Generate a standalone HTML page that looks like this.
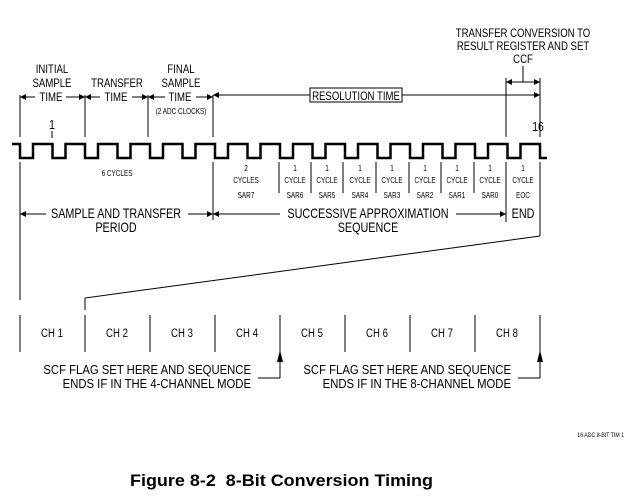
<!DOCTYPE html>
<html><head><meta charset="utf-8"><style>
html,body{margin:0;padding:0;background:#fff}
svg{display:block}
text{font-family:"Liberation Sans",sans-serif;fill:#000}
.n text{transform-box:fill-box;transform-origin:center;transform:scaleX(0.8)}
.r text{transform-box:fill-box;transform-origin:right;transform:scaleX(0.87)}
</style></head><body>
<svg width="631" height="502" viewBox="0 0 631 502" xmlns="http://www.w3.org/2000/svg">
<defs>
<marker id="a" viewBox="0 0 10 10" refX="10" refY="5" markerWidth="10" markerHeight="6" markerUnits="userSpaceOnUse" orient="auto"><path d="M0,0L10,5L0,10z"/></marker>
</defs>
<g stroke="#000" stroke-width="1" fill="none">
<line x1="20" y1="95" x2="20" y2="137"/>
<line x1="85" y1="95" x2="85" y2="137"/>
<line x1="148" y1="95" x2="148" y2="137"/>
<line x1="213" y1="95" x2="213" y2="137"/>
<line x1="213" y1="162" x2="213" y2="220"/>
<line x1="20" y1="162" x2="20" y2="300"/>
<line x1="52" y1="131" x2="52" y2="138"/>
<line x1="506" y1="78" x2="506" y2="137"/>
<line x1="540" y1="78" x2="540" y2="137"/>
<line x1="506" y1="162" x2="506" y2="222"/>
<line x1="540" y1="162" x2="540" y2="236"/>
<line x1="523" y1="66" x2="523" y2="82"/>
<line x1="279" y1="162" x2="279" y2="193"/><line x1="311" y1="162" x2="311" y2="193"/>
<line x1="343" y1="162" x2="343" y2="193"/><line x1="376" y1="162" x2="376" y2="193"/>
<line x1="409" y1="162" x2="409" y2="193"/><line x1="441" y1="162" x2="441" y2="193"/>
<line x1="474" y1="162" x2="474" y2="193"/>
<polyline points="540,236 85,298 85,310"/>
<line x1="20" y1="315" x2="20" y2="352"/><line x1="85" y1="315" x2="85" y2="352"/>
<line x1="150" y1="315" x2="150" y2="352"/><line x1="215" y1="315" x2="215" y2="352"/>
<line x1="345" y1="315" x2="345" y2="352"/><line x1="410" y1="315" x2="410" y2="352"/>
<line x1="475" y1="315" x2="475" y2="352"/>
<line x1="280" y1="315" x2="280" y2="378"/>
<line x1="540" y1="315" x2="540" y2="378"/>
<polyline points="258,378 280,378"/>
<polyline points="518,378 540,378"/>
<line x1="35" y1="97" x2="20" y2="97" marker-end="url(#a)"/>
<line x1="66" y1="97" x2="85" y2="97" marker-end="url(#a)"/>
<line x1="100" y1="97" x2="85" y2="97" marker-end="url(#a)"/>
<line x1="132" y1="97" x2="148" y2="97" marker-end="url(#a)"/>
<line x1="165" y1="97" x2="148" y2="97" marker-end="url(#a)"/>
<line x1="196" y1="97" x2="213" y2="97" marker-end="url(#a)"/>
<line x1="310" y1="95" x2="213" y2="95" marker-end="url(#a)"/>
<line x1="402" y1="95" x2="540" y2="95" marker-end="url(#a)"/>
<line x1="523" y1="82" x2="506" y2="82" marker-end="url(#a)"/>
<line x1="523" y1="82" x2="540" y2="82" marker-end="url(#a)"/>
<line x1="46" y1="214" x2="20" y2="214" marker-end="url(#a)"/>
<line x1="188" y1="214" x2="213" y2="214" marker-end="url(#a)"/>
<line x1="280" y1="214" x2="213" y2="214" marker-end="url(#a)"/>
<line x1="456" y1="214" x2="506" y2="214" marker-end="url(#a)"/>
<rect x="310" y="88" width="92" height="14"/>
<path stroke-width="2.5" d="M12,144 H20 V158 H33 V144 H52.5 V158 H65.5 V144 H85 V158 H98 V144 H117.5 V158 H130.5 V144 H150 V158 H163 V144 H182.5 V158 H195.5 V144 H215 V158 H228 V144 H247.5 V158 H260.5 V144 H280 V158 H293 V144 H312.5 V158 H325.5 V144 H345 V158 H358 V144 H377.5 V158 H390.5 V144 H410 V158 H423 V144 H442.5 V158 H455.5 V144 H475 V158 H488 V144 H507.5 V158 H520.5 V144 H540 V158 H547"/>
</g>
<path d="M280,350 L277,362 L283,362z M540,350 L537,362 L543,362z" fill="#000"/>
<g font-size="12" text-anchor="middle" class="n">
<text x="52" y="73">INITIAL</text><text x="52" y="87">SAMPLE</text><text x="51" y="101">TIME</text>
<text x="117" y="87">TRANSFER</text><text x="116" y="101">TIME</text>
<text x="181" y="73">FINAL</text><text x="181" y="87">SAMPLE</text><text x="180" y="101">TIME</text>
<text x="181" y="114" font-size="8">(2 ADC CLOCKS)</text>
<text x="356" y="100">RESOLUTION TIME</text>
<text x="523" y="37">TRANSFER CONVERSION TO</text>
<text x="523" y="50">RESULT REGISTER AND SET</text>
<text x="523" y="63">CCF</text>
<text x="52" y="129" font-size="13">1</text>
<text x="538" y="131" font-size="13">16</text>
<text x="117" y="176" font-size="8">6 CYCLES</text>
<g font-size="8">
<text x="246" y="171">2</text><text x="246" y="183">CYCLES</text><text x="246" y="198">SAR7</text>
<text x="295" y="171">1</text><text x="295" y="183">CYCLE</text><text x="295" y="198">SAR6</text>
<text x="327" y="171">1</text><text x="327" y="183">CYCLE</text><text x="327" y="198">SAR5</text>
<text x="360" y="171">1</text><text x="360" y="183">CYCLE</text><text x="360" y="198">SAR4</text>
<text x="392" y="171">1</text><text x="392" y="183">CYCLE</text><text x="392" y="198">SAR3</text>
<text x="425" y="171">1</text><text x="425" y="183">CYCLE</text><text x="425" y="198">SAR2</text>
<text x="457" y="171">1</text><text x="457" y="183">CYCLE</text><text x="457" y="198">SAR1</text>
<text x="490" y="171">1</text><text x="490" y="183">CYCLE</text><text x="490" y="198">SAR0</text>
<text x="523" y="171">1</text><text x="523" y="183">CYCLE</text><text x="523" y="198">EOC</text>
</g>
<text x="116" y="218" font-size="13.5">SAMPLE AND TRANSFER</text>
<text x="116" y="232" font-size="13.5">PERIOD</text>
<text x="368" y="218" font-size="13.5">SUCCESSIVE APPROXIMATION</text>
<text x="368" y="232" font-size="13.5">SEQUENCE</text>
<text x="523" y="218" font-size="13.5">END</text>
<text x="52" y="337">CH 1</text><text x="117" y="337">CH 2</text><text x="182" y="337">CH 3</text>
<text x="247" y="337">CH 4</text><text x="312" y="337">CH 5</text><text x="377" y="337">CH 6</text>
<text x="442" y="337">CH 7</text><text x="507" y="337">CH 8</text>
</g>
<g font-size="13" text-anchor="end" class="r">
<text x="251" y="374">SCF FLAG SET HERE AND SEQUENCE</text>
<text x="251" y="388">ENDS IF IN THE 4-CHANNEL MODE</text>
<text x="511" y="374">SCF FLAG SET HERE AND SEQUENCE</text>
<text x="511" y="388">ENDS IF IN THE 8-CHANNEL MODE</text>
<text x="624" y="437" font-size="6">16 ADC 8-BIT TIM 1</text>
</g>
<text x="130" y="486" font-size="17" font-weight="bold" textLength="303" lengthAdjust="spacingAndGlyphs" xml:space="preserve">Figure 8-2  8-Bit Conversion Timing</text>
</svg>
</body></html>
